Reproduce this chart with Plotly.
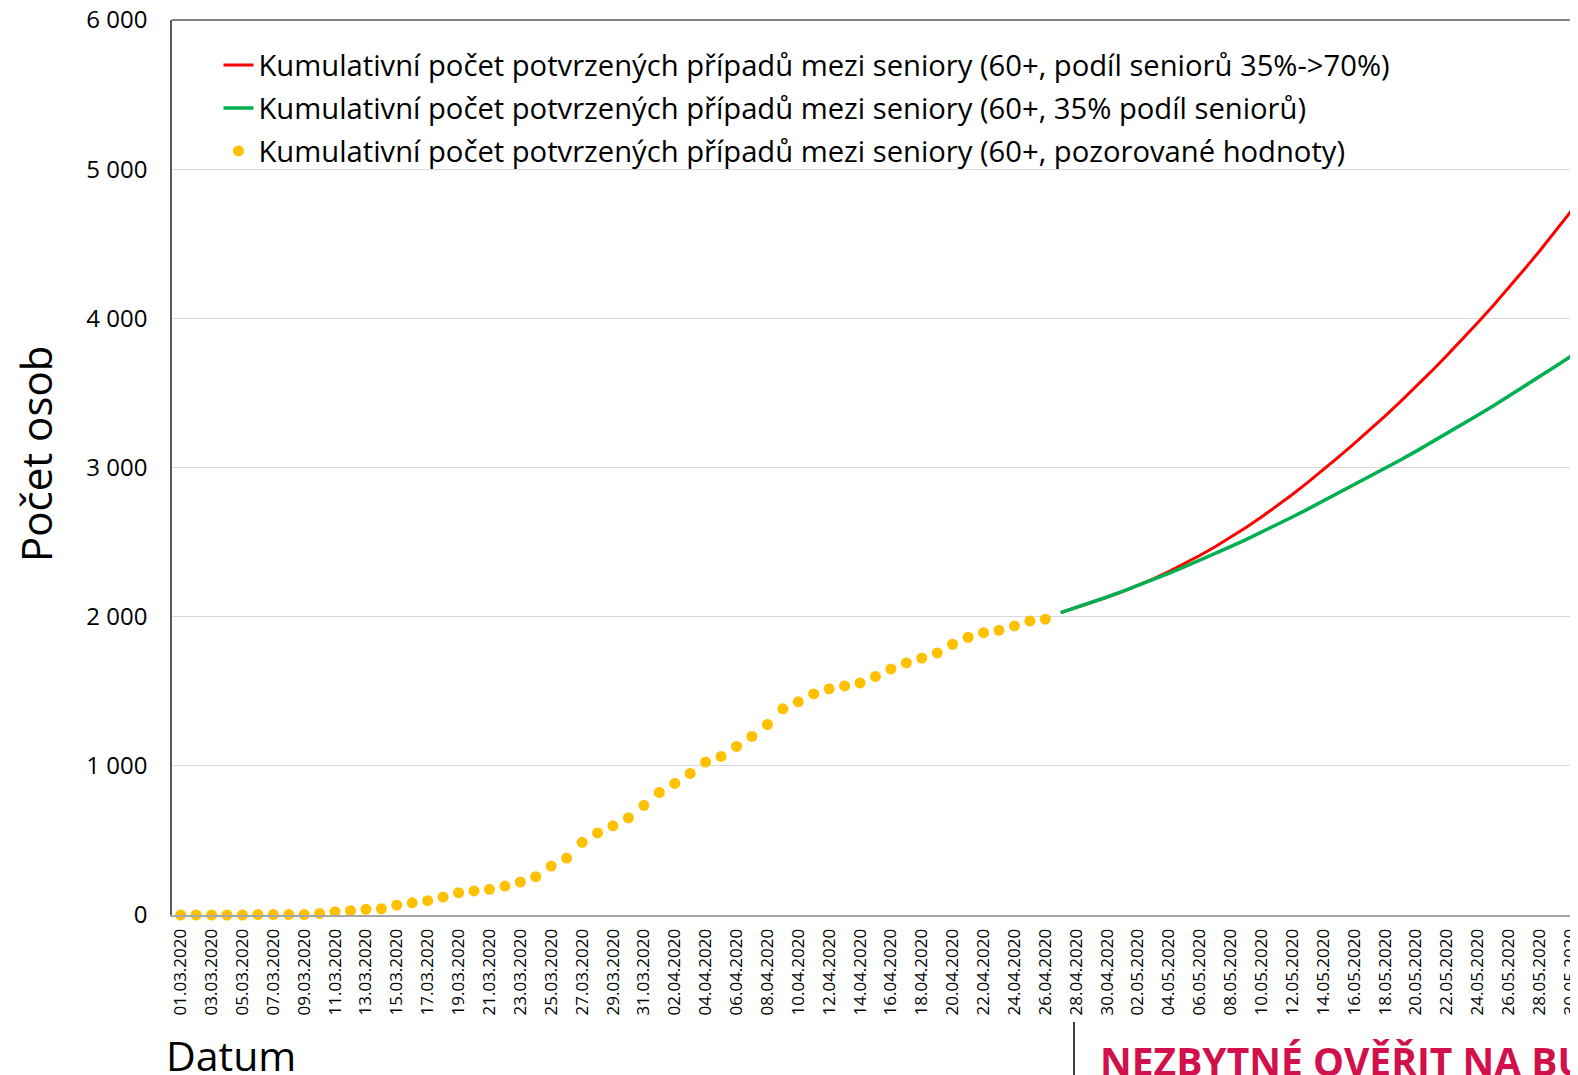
import pandas as pd
import plotly.graph_objects as go

# ---- categories (dates 01.03.2020 - 31.05.2020) ----
start_date = "2020-03-01"
end_date = "2020-05-31"
dates = [d.strftime("%d.%m.%Y") for d in pd.date_range(start_date, end_date, freq="D")]

# ---- observed cumulative counts (01.03 - 26.04) ----
observed = [0, 0, 0, 0, 0, 3, 3, 3, 3, 10,
            22, 29, 38, 42, 66, 82, 96, 120, 150, 161,
            172, 194, 221, 257, 328, 382, 487, 550, 598, 652,
            735, 822, 882, 949, 1025, 1063, 1130, 1197, 1277, 1382,
            1429, 1482, 1516, 1536, 1556, 1599, 1650, 1690, 1723, 1757,
            1815, 1862, 1893, 1909, 1938, 1971, 1983]

# ---- projections (27.04 - 31.05) ----
proj_red = [2027, 2060, 2094, 2130, 2168, 2209, 2254, 2302, 2354, 2410,
            2469, 2532, 2598, 2668, 2742, 2819, 2900, 2984, 3071, 3160,
            3251, 3345, 3442, 3542, 3644, 3750, 3858, 3970, 4085, 4203,
            4325, 4450, 4579, 4712, 4848]
proj_green = [2027, 2061, 2096, 2132, 2170, 2209, 2249, 2290, 2333, 2377,
              2422, 2469, 2517, 2566, 2616, 2668, 2721, 2775, 2828, 2882,
              2937, 2993, 3050, 3108, 3167, 3227, 3288, 3350, 3413, 3477,
              3542, 3608, 3675, 3743, 3812]

obs_dates = dates[:len(observed)]
proj_dates = dates[len(observed):len(observed) + len(proj_red)]

name_red = "Kumulativní počet potvrzených případů mezi seniory (60+, podíl seniorů 35%->70%)"
name_green = "Kumulativní počet potvrzených případů mezi seniory (60+, 35% podíl seniorů)"
name_obs = "Kumulativní počet potvrzených případů mezi seniory (60+, pozorované hodnoty)"

y_ticks = [0, 1000, 2000, 3000, 4000, 5000, 6000]

FONT = "Open Sans"

fig = go.Figure()
fig.add_trace(go.Scatter(x=proj_dates, y=proj_red, mode="lines", name=name_red,
                         line=dict(color="#FF0000", width=3), legendgroup="a"))
fig.add_trace(go.Scatter(x=proj_dates, y=proj_green, mode="lines", name=name_green,
                         line=dict(color="#00B050", width=3.5), legendgroup="b"))
fig.add_trace(go.Scatter(x=obs_dates, y=observed, mode="markers", name=name_obs,
                         marker=dict(color="#FFC000", size=11), cliponaxis=False,
                         legendgroup="c"))

# page has an 8px body margin; figure is sized so the page is 1578x1075
OFF = 8
W, H = 1578 - OFF, 1075 - OFF
PLOT_L, PLOT_T, PLOT_B = 172, 20, 915          # page coordinates
ML, MR = PLOT_L - OFF, 0
MT = PLOT_T - OFF
MB = H - (PLOT_B - OFF)
PW, PH = W - ML - MR, H - MT - MB


def px_x(x):  # page x -> paper
    return (x - PLOT_L) / PW


def px_y(y):  # page y -> paper
    return (PLOT_B - y) / PH


fig.update_layout(
    width=W, height=H,
    margin=dict(l=ML, r=MR, t=MT, b=MB, pad=0, autoexpand=False),
    paper_bgcolor="white", plot_bgcolor="white",
    separators=", ",
    font=dict(family=FONT, color="#000000"),
    showlegend=True,
    legend=dict(x=px_x(218.5), y=px_y(39.5), xanchor="left", yanchor="top",
                font=dict(family=FONT, size=29.2, color="#000000"),
                bgcolor="rgba(0,0,0,0)", borderwidth=0,
                traceorder="grouped", tracegroupgap=2),
    xaxis=dict(type="category", categoryorder="array", categoryarray=dates,
               range=[-0.56, 90.5], tickmode="array", tickvals=dates[::2],
               ticktext=dates[::2], tickangle=-90, ticks="",
               tickfont=dict(family=FONT, size=17, color="#000000"),
               showgrid=False, showline=True, linecolor="#A6A6A6", linewidth=2,
               zeroline=False, ticklabelstandoff=5, ticklabeloverflow="allow",
               automargin=False),
    yaxis=dict(range=[0, 6000], tickvals=y_ticks, tickformat=",d", ticks="",
               tickfont=dict(family=FONT, size=24, color="#000000"),
               showgrid=True, gridcolor="#D9D9D9", gridwidth=1,
               showline=True, linecolor="#595959", linewidth=1.5,
               zeroline=False, ticklabelstandoff=18, ticklabeloverflow="allow",
               automargin=False),
)

# top border of the plot area
fig.add_shape(type="line", xref="paper", yref="paper", x0=0, x1=1, y0=1, y1=1,
              line=dict(color="#595959", width=1.5))
# separator line under the axis
fig.add_shape(type="line", xref="paper", yref="paper",
              x0=px_x(1074), x1=px_x(1074), y0=px_y(1022), y1=px_y(1080),
              line=dict(color="#000000", width=1.5))

fig.add_annotation(text="Počet osob", xref="paper", yref="paper",
                   x=px_x(35), y=px_y(454), textangle=-90, showarrow=False,
                   xanchor="center", yanchor="middle",
                   font=dict(family=FONT, size=42, color="#000000"))
fig.add_annotation(text="Datum", xref="paper", yref="paper",
                   x=px_x(164), y=px_y(1055), showarrow=False,
                   xanchor="left", yanchor="middle",
                   font=dict(family=FONT, size=41, color="#000000"))
fig.add_annotation(text="<b>NEZBYTNÉ OVĚŘIT NA BUDOUCÍCH DATECH</b>", xref="paper", yref="paper",
                   x=px_x(1098), y=px_y(1060), showarrow=False,
                   xanchor="left", yanchor="middle",
                   font=dict(family=FONT, size=39, color="#D2104B"))

fig.write_html("out.html")
